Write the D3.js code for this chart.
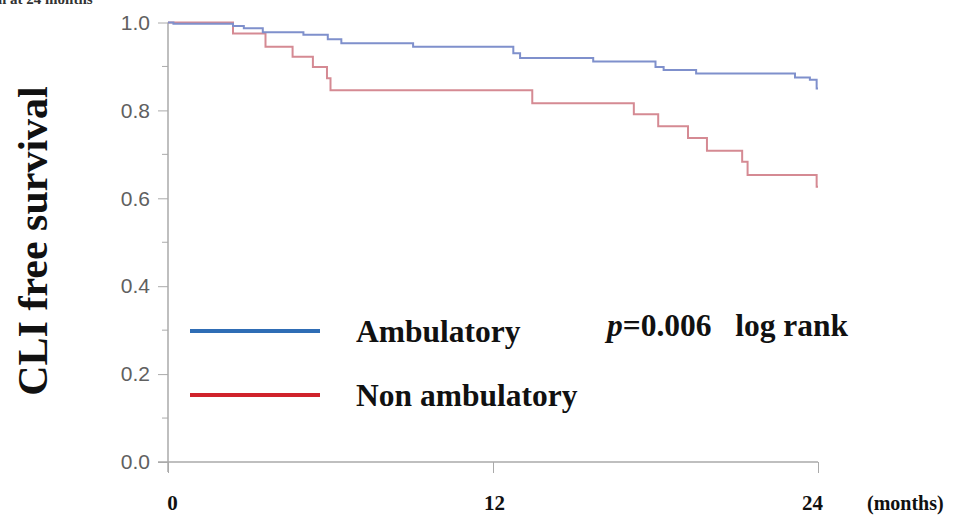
<!DOCTYPE html>
<html>
<head>
<meta charset="utf-8">
<script src="https://cdn.jsdelivr.net/npm/d3@7"></script>
<style>
  body { margin: 0; background: #fff; }
  svg { display: block; }
</style>
</head>
<body>
<script>
// Kaplan-Meier steps (months, survival)
const ambTime = [0, 0.2, 2.4, 2.8, 3.5, 5.0, 5.9, 6.4, 9.05, 12.75, 13.0, 15.7, 18.0, 18.3, 19.5, 23.15, 23.7, 23.95, 24];
const ambSurv = [1.0, 0.997, 0.992, 0.987, 0.978, 0.972, 0.962, 0.953, 0.945, 0.930, 0.919, 0.911, 0.899, 0.892, 0.884, 0.875, 0.870, 0.850, 0.850];
const nonTime = [0, 2.4, 3.6, 4.6, 5.35, 5.87, 6.0, 13.45, 17.2, 18.1, 19.2, 19.9, 21.2, 21.4, 23.95, 24];
const nonSurv = [1.0, 0.975, 0.945, 0.922, 0.899, 0.873, 0.846, 0.816, 0.791, 0.764, 0.737, 0.708, 0.683, 0.653, 0.626, 0.626];

const yTicks = [0, 0.2, 0.4, 0.6, 0.8, 1.0];
const yMinor = [0.1, 0.3, 0.5, 0.7, 0.9];
const xTicks = [0, 12, 24];
const groups = ['Ambulatory', 'Non ambulatory'];

const width = 964, height = 523;
const margin = { top: 22.5, left: 168, right: 146, bottom: 61 };
const serif = '"Liberation Serif", "Times New Roman", serif';

const svg = d3.select('body').append('svg')
  .attr('width', width)
  .attr('height', height);

const x = d3.scaleLinear().domain([0, 24]).range([margin.left, width - margin.right]);
const y = d3.scaleLinear().domain([0, 1]).range([height - margin.bottom, margin.top]);

// heading, mostly cut off by the top edge as in the source figure
svg.append('text')
  .attr('x', -2)
  .attr('y', 4)
  .style('font-family', serif)
  .style('font-weight', 'bold')
  .style('font-size', '15px')
  .attr('fill', '#333')
  .text('n at 24 months');

// Y axis
const yAxis = svg.append('g')
  .attr('transform', `translate(${margin.left},0)`)
  .call(d3.axisLeft(y).tickValues(yTicks).tickFormat(d3.format('.1f')).tickSize(10).tickPadding(8));
yAxis.select('.domain').attr('d', `M0,${y(1)}V${y(0) + 10}`);
yAxis.selectAll('line').attr('stroke', '#aaa');
yAxis.selectAll('.domain').attr('stroke', '#aaa').attr('stroke-width', 1.5);
yAxis.selectAll('text')
  .style('font-family', '"Liberation Sans", Arial, sans-serif')
  .style('font-size', '21px')
  .attr('fill', '#606060');

svg.append('g')
  .selectAll('line')
  .data(yMinor)
  .join('line')
  .attr('x1', margin.left - 6)
  .attr('x2', margin.left)
  .attr('y1', d => y(d))
  .attr('y2', d => y(d))
  .attr('stroke', '#aaa');

// X axis
const xAxis = svg.append('g')
  .attr('transform', `translate(0,${y(0)})`)
  .call(d3.axisBottom(x).tickValues(xTicks).tickSize(11).tickPadding(22));
xAxis.select('.domain').attr('d', `M${margin.left - 10},0H${x(24)}`)
  .attr('stroke', '#aaa').attr('stroke-width', 1.5);
xAxis.selectAll('line').attr('stroke', '#aaa');
xAxis.selectAll('text')
  .attr('dx', d => d === 0 ? 4 : (d === 24 ? -6 : 1))
  .style('font-family', serif)
  .style('font-weight', 'bold')
  .style('font-size', '21px')
  .attr('fill', '#111');

svg.append('text')
  .attr('x', 867)
  .attr('y', 510)
  .style('font-family', serif)
  .style('font-weight', 'bold')
  .style('font-size', '20px')
  .attr('fill', '#111')
  .text('(months)');

// y title
svg.append('text')
  .attr('transform', `translate(47,241) rotate(-90)`)
  .attr('text-anchor', 'middle')
  .style('font-family', serif)
  .style('font-weight', 'bold')
  .style('font-size', '42px')
  .attr('fill', '#111')
  .text('CLI free survival');

// curves
const km = d3.line()
  .x(d => x(d[0]))
  .y(d => y(d[1]))
  .curve(d3.curveStepAfter);

const ambData = ambTime.map((t, i) => [t, ambSurv[i]]);
const nonData = nonTime.map((t, i) => [t, nonSurv[i]]);

svg.append('path')
  .datum(nonData)
  .attr('fill', 'none')
  .attr('stroke', '#d58a93')
  .attr('stroke-width', 2)
  .attr('d', km);

svg.append('path')
  .datum(ambData)
  .attr('fill', 'none')
  .attr('stroke', '#7f90cc')
  .attr('stroke-width', 2)
  .attr('d', km);

// legend
const legendColors = ['#2f6db5', '#d0222b'];
const legendY = [331, 395];
const legend = svg.append('g');
groups.forEach((g, i) => {
  legend.append('line')
    .attr('x1', 190).attr('x2', 320)
    .attr('y1', legendY[i]).attr('y2', legendY[i])
    .attr('stroke', legendColors[i])
    .attr('stroke-width', 4);
  legend.append('text')
    .attr('x', 356)
    .attr('y', legendY[i] + 11)
    .style('font-family', serif)
    .style('font-weight', 'bold')
    .style('font-size', '31.5px')
    .attr('fill', '#111')
    .text(g);
});

const pText = svg.append('text')
  .attr('x', 607)
  .attr('y', 336)
  .style('font-family', serif)
  .style('font-weight', 'bold')
  .style('font-size', '31.5px')
  .attr('fill', '#111');
pText.append('tspan').style('font-style', 'italic').text('p');
pText.append('tspan').attr('xml:space', 'preserve').text('=0.006\u00a0\u00a0 log rank');
</script>
</body>
</html>
